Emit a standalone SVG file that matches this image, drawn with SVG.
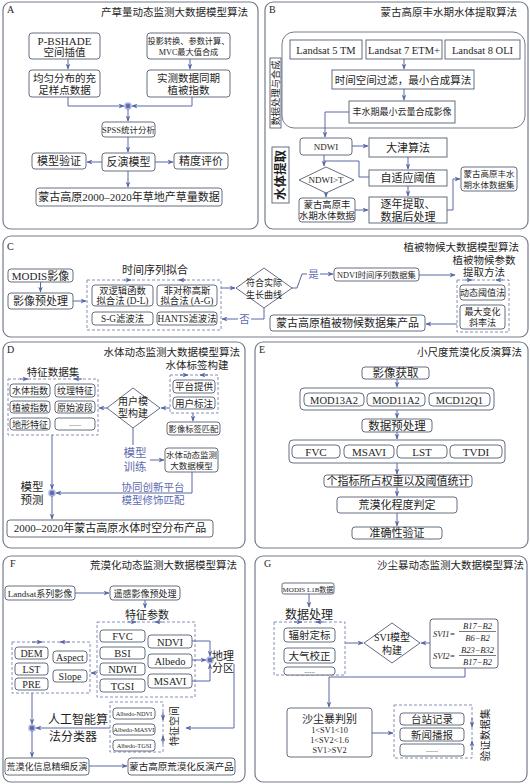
<svg xmlns="http://www.w3.org/2000/svg" width="530" height="784" viewBox="0 0 530 784">
<style>
.p{fill:#fff;stroke:#767c8c;stroke-width:1.2}
.b{fill:#fff;stroke:#555d72;stroke-width:0.9}
.g{fill:none;stroke:#7a85b0;stroke-width:0.9;stroke-dasharray:3 2}
.c{fill:none;stroke:#5866a8;stroke-width:1}
.a{marker-end:url(#ah)}
.t{font-family:"Liberation Serif","Noto Sans CJK SC",serif;fill:#1e1e1e;text-anchor:middle}
.s{text-anchor:start}
.e{text-anchor:end}
.bl{fill:#5d6bb0}
.i{font-style:italic}
.dot{fill:#5d6bb0;stroke:#aab2dc;stroke-width:1.5}
</style>
<defs>
<marker id="ah" viewBox="0 0 10 10" refX="9" refY="5" markerWidth="6" markerHeight="6" markerUnits="userSpaceOnUse" orient="auto"><path d="M0,1 L10,5 L0,9 L3,5 z" fill="#5866a8"/></marker>
</defs>
<rect width="530" height="784" fill="#fff"/>

<!-- Panels -->
<g id="panels">
<rect class="p" x="3" y="2" width="255" height="227" rx="8"/>
<rect class="p" x="265" y="2" width="263" height="227" rx="8"/>
<rect class="p" x="3" y="236" width="525" height="101" rx="8"/>
<rect class="p" x="3" y="342" width="242" height="206" rx="8"/>
<rect class="p" x="255" y="342" width="273" height="206" rx="8"/>
<rect class="p" x="3" y="556" width="242" height="226" rx="8"/>
<rect class="p" x="255" y="556" width="272" height="226" rx="8"/>
<text class="t s" x="7" y="13" font-size="10">A</text>
<text class="t e" x="248" y="16" font-size="10.5">产草量动态监测大数据模型算法</text>
<text class="t s" x="269" y="13" font-size="10">B</text>
<text class="t e" x="517" y="16" font-size="10.5">蒙古高原丰水期水体提取算法</text>
<text class="t s" x="7" y="250" font-size="10">C</text>
<text class="t e" x="519" y="251" font-size="10.5">植被物候大数据模型算法</text>
<text class="t s" x="7" y="353" font-size="10">D</text>
<text class="t e" x="240" y="356" font-size="10.5">水体动态监测大数据模型算法</text>
<text class="t s" x="259" y="353" font-size="10">E</text>
<text class="t e" x="522" y="356" font-size="10.5">小尺度荒漠化反演算法</text>
<text class="t s" x="10" y="567" font-size="10">F</text>
<text class="t e" x="237" y="569" font-size="10.5">荒漠化动态监测大数据模型算法</text>
<text class="t s" x="264" y="567" font-size="10">G</text>
<text class="t e" x="524" y="569" font-size="10.5">沙尘暴动态监测大数据模型算法</text>
</g>

<!-- Panel A nodes -->
<g id="a1"><rect class="b" x="29" y="33" width="71" height="26" rx="3"/><text class="t" x="64.5" y="44.5" font-size="11">P-BSHADE</text><text class="t" x="64.5" y="56" font-size="10.5">空间插值</text></g>
<g id="a2"><rect class="b" x="147" y="33" width="83" height="26" rx="3"/><text class="t" x="188.5" y="43.5" font-size="8.2">投影转换、参数计算、</text><text class="t" x="188.5" y="54.5" font-size="8.2">MVC最大值合成</text></g>
<g id="a3"><rect class="b" x="29" y="70" width="71" height="27" rx="3"/><text class="t" x="64.5" y="81.5" font-size="10.5">均匀分布的充</text><text class="t" x="64.5" y="93.5" font-size="10.5">足样点数据</text></g>
<g id="a4"><rect class="b" x="147" y="70" width="83" height="27" rx="3"/><text class="t" x="188.5" y="81.5" font-size="10.5">实测数据同期</text><text class="t" x="188.5" y="93.5" font-size="10.5">植被指数</text></g>
<g id="a5"><rect class="b" x="102" y="122" width="53" height="15" rx="3"/><text class="t" x="128.5" y="132.8" font-size="8.5">SPSS统计分析</text></g>
<g id="a6"><rect class="b" x="102" y="153" width="53" height="18" rx="3"/><text class="t" x="128.5" y="166" font-size="11">反演模型</text></g>
<g id="a7"><rect class="b" x="32" y="153" width="54" height="16" rx="3"/><text class="t" x="59" y="165" font-size="11">模型验证</text></g>
<g id="a8"><rect class="b" x="174" y="153" width="54" height="16" rx="3"/><text class="t" x="201" y="165" font-size="11">精度评价</text></g>
<g id="a9"><rect class="b" x="36" y="188" width="186" height="18" rx="3"/><text class="t" x="129" y="201" font-size="11">蒙古高原2000–2020年草地产草量数据</text></g>
<g id="a-dot"><circle class="dot" cx="128" cy="106" r="3"/></g>

<!-- Panel B nodes -->
<g id="b0"><rect fill="none" stroke="#767c8c" stroke-width="1" x="282" y="32" width="243" height="96" rx="12"/></g>
<g id="b-lab1"><rect class="b" x="270" y="58" width="11" height="70"/><text class="t" transform="translate(275.5,93) rotate(-90)" y="3.3" font-size="9.3">数据处理与合成</text></g>
<g id="b1"><rect class="b" x="290" y="40" width="72" height="19"/><text class="t" x="326" y="53.5" font-size="10.5">Landsat 5 TM</text></g>
<g id="b2"><rect class="b" x="366" y="40" width="76" height="19"/><text class="t" x="404" y="53.5" font-size="10.5">Landsat 7 ETM+</text></g>
<g id="b3"><rect class="b" x="445" y="40" width="75" height="19"/><text class="t" x="482.5" y="53.5" font-size="10.5">Landsat 8 OLI</text></g>
<g id="b4"><rect class="b" x="332" y="70" width="142" height="19"/><text class="t" x="403" y="83.5" font-size="10.5">时间空间过滤，最小合成算法</text></g>
<g id="b5"><rect class="b" x="349" y="101" width="106" height="22"/><text class="t" x="402" y="115.3" font-size="9">丰水期最小云量合成影像</text></g>
<g id="b6"><rect class="b" x="300" y="138" width="52" height="17" rx="3"/><text class="t" x="326" y="149.8" font-size="9">NDWI</text></g>
<g id="b7"><rect class="b" x="369" y="138" width="78" height="19"/><text class="t" x="408" y="151.5" font-size="11">大津算法</text></g>
<g id="b8"><rect class="b" x="369" y="170" width="78" height="16"/><text class="t" x="408" y="182" font-size="11">自适应阈值</text></g>
<g id="b9"><polygon class="b" points="299,180 326,167 354,180 326,193"/><text class="t" x="326" y="183.3" font-size="9">NDWI&gt;T</text></g>
<g id="b10"><rect class="b" x="299" y="198" width="56" height="24" rx="3"/><text class="t" x="327" y="208" font-size="9.3">蒙古高原丰</text><text class="t" x="327" y="219" font-size="9.3">水期水体数据</text></g>
<g id="b11"><rect class="b" x="369" y="197" width="78" height="26"/><text class="t" x="408" y="208" font-size="11">逐年提取、</text><text class="t" x="408" y="220.5" font-size="11">数据后处理</text></g>
<g id="b12"><rect class="b" x="461" y="167" width="56" height="24" rx="3"/><text class="t" x="489" y="177" font-size="8.5">蒙古高原丰水</text><text class="t" x="489" y="187.5" font-size="8.5">期水体数据集</text></g>
<g id="b-lab2"><rect class="b" x="272" y="147" width="17" height="56"/><text class="t" transform="translate(280.5,175) rotate(-90)" y="4.4" font-size="12.5" font-weight="bold">水体提取</text></g>

<!-- Panel C nodes -->
<g id="c1"><rect class="b" x="8" y="269" width="65" height="13" rx="3"/><text class="t" x="40.5" y="279.5" font-size="11">MODIS影像</text></g>
<g id="c2"><rect class="b" x="8" y="293" width="65" height="16" rx="3"/><text class="t" x="40.5" y="305" font-size="11">影像预处理</text></g>
<g id="c3"><rect class="g" x="87" y="280" width="134" height="50"/><text class="t" x="155" y="274" font-size="11">时间序列拟合</text></g>
<g id="c4"><rect class="b" x="92" y="285" width="61" height="21" rx="3"/><text class="t" x="122.5" y="294" font-size="9.3">双逻辑函数</text><text class="t" x="122.5" y="304" font-size="9.3">拟合法 (D-L)</text></g>
<g id="c5"><rect class="b" x="157" y="285" width="60" height="21" rx="3"/><text class="t" x="187" y="294" font-size="9.3">非对称高斯</text><text class="t" x="187" y="304" font-size="9.3">拟合法 (A-G)</text></g>
<g id="c6"><rect class="b" x="92" y="312" width="61" height="13" rx="3"/><text class="t" x="122.5" y="321.8" font-size="9.3">S-G滤波法</text></g>
<g id="c7"><rect class="b" x="157" y="312" width="60" height="13" rx="3"/><text class="t" x="187" y="321.8" font-size="9.3">HANTS滤波法</text></g>
<g id="c8"><polygon class="b" points="236,288 264,268 292,288 264,308"/><text class="t" x="264" y="286" font-size="9">符合实际</text><text class="t" x="264" y="297.5" font-size="9">生长曲线</text></g>
<g id="c9"><rect class="b" x="334" y="268" width="85" height="13" rx="3"/><text class="t" x="376.5" y="277.8" font-size="8.3">NDVI时间序列数据集</text></g>
<g id="c10"><rect class="g" x="457" y="280" width="52" height="52"/><text class="t" x="484" y="264" font-size="10.5">植被物候参数</text><text class="t" x="484" y="276" font-size="10.5">提取方法</text></g>
<g id="c11"><rect class="b" x="460" y="285" width="45" height="15" rx="3"/><text class="t" x="482.5" y="295.8" font-size="9">动态阈值法</text></g>
<g id="c12"><rect class="b" x="460" y="305" width="45" height="24" rx="3"/><text class="t" x="482.5" y="315" font-size="9">最大变化</text><text class="t" x="482.5" y="326" font-size="9">斜率法</text></g>
<g id="c13"><rect class="b" x="270" y="315" width="155" height="16" rx="3"/><text class="t" x="347.5" y="327" font-size="11">蒙古高原植被物候数据集产品</text></g>

<!-- Panel D nodes -->
<g id="d0"><rect class="g" x="8" y="379" width="90" height="56"/><text class="t" x="53" y="376" font-size="10.5">特征数据集</text></g>
<g id="d1"><rect class="b" x="10" y="384" width="40" height="13" rx="3"/><text class="t" x="30" y="394" font-size="9">水体指数</text></g>
<g id="d2"><rect class="b" x="55" y="384" width="40" height="13" rx="3"/><text class="t" x="75" y="394" font-size="9">纹理特征</text></g>
<g id="d3"><rect class="b" x="10" y="401" width="40" height="12" rx="3"/><text class="t" x="30" y="410.5" font-size="9">植被指数</text></g>
<g id="d4"><rect class="b" x="55" y="401" width="40" height="12" rx="3"/><text class="t" x="75" y="410.5" font-size="9">原始波段</text></g>
<g id="d5"><rect class="b" x="10" y="418" width="40" height="12" rx="3"/><text class="t" x="30" y="427.5" font-size="9">地形特征</text></g>
<g id="d6"><rect class="b" x="55" y="418" width="40" height="12" rx="3"/><text class="t" x="75" y="426" font-size="8">......</text></g>
<g id="d7"><polygon class="b" points="107,408 133,388 160,408 133,428"/><text class="t" x="133" y="405" font-size="10">用户模</text><text class="t" x="133" y="417" font-size="10">型构建</text></g>
<g id="d-grp2"><rect class="g" x="170" y="375" width="48" height="38"/><text class="t" x="197" y="369" font-size="10.5">水体标签构建</text></g>
<g id="d8"><rect class="b" x="173" y="380" width="42" height="13" rx="3"/><text class="t" x="194" y="390" font-size="9.5">平台提供</text></g>
<g id="d9"><rect class="b" x="173" y="397" width="42" height="12" rx="3"/><text class="t" x="194" y="406.5" font-size="9.5">用户标注</text></g>
<g id="d10"><rect class="b" x="167" y="422" width="53" height="13" rx="3"/><text class="t" x="193.5" y="431.8" font-size="8.3">影像标签匹配</text></g>
<g id="d11"><rect class="b" x="165" y="448" width="53" height="24" rx="3"/><text class="t" x="191.5" y="458" font-size="8.5">水体动态监测</text><text class="t" x="191.5" y="469" font-size="8.5">大数据模型</text></g>
<g id="d12"><rect class="b" x="7" y="520" width="206" height="17" rx="3"/><text class="t" x="110" y="532.3" font-size="11">2000–2020年蒙古高原水体时空分布产品</text></g>
<g id="d-dot"><circle class="dot" cx="52" cy="493" r="3"/></g>
<g id="d-labels">
<text class="t bl" x="135" y="457" font-size="11.5">模型</text><text class="t bl" x="135" y="471" font-size="11.5">训练</text>
<text class="t bl" x="153" y="490.5" font-size="10.5">协同创新平台</text><text class="t bl" x="153" y="503.5" font-size="10.5">模型修饰匹配</text>
<text class="t" x="32" y="491" font-size="11.5">模型</text><text class="t" x="32" y="504" font-size="11.5">预测</text>
</g>

<!-- Panel E nodes -->
<g id="e1"><rect class="b" x="362" y="367" width="67" height="12" rx="3"/><text class="t" x="395.5" y="377.2" font-size="11.5">影像获取</text></g>
<g id="e2"><rect class="b" x="300" y="388" width="194" height="22" rx="4"/></g>
<g id="e2a"><rect class="b" x="304" y="393" width="60" height="13" rx="4"/><text class="t" x="334" y="403.5" font-size="10.5">MOD13A2</text></g>
<g id="e2b"><rect class="b" x="367" y="393" width="58" height="13" rx="4"/><text class="t" x="396" y="403.5" font-size="10.5">MOD11A2</text></g>
<g id="e2c"><rect class="b" x="429" y="393" width="61" height="13" rx="4"/><text class="t" x="459.5" y="403.5" font-size="10.5">MCD12Q1</text></g>
<g id="e3"><rect class="b" x="362" y="419" width="70" height="13" rx="3"/><text class="t" x="397" y="429.5" font-size="11.5">数据预处理</text></g>
<g id="e4"><rect class="b" x="289" y="440" width="216" height="23" rx="4"/></g>
<g id="e4a"><rect class="b" x="292" y="445" width="48" height="13" rx="4"/><text class="t" x="316" y="455.5" font-size="11">FVC</text></g>
<g id="e4b"><rect class="b" x="344" y="445" width="50" height="13" rx="4"/><text class="t" x="369" y="455.5" font-size="11">MSAVI</text></g>
<g id="e4c"><rect class="b" x="397" y="445" width="50" height="13" rx="4"/><text class="t" x="422" y="455.5" font-size="11">LST</text></g>
<g id="e4d"><rect class="b" x="450" y="445" width="52" height="13" rx="4"/><text class="t" x="476" y="455.5" font-size="11">TVDI</text></g>
<g id="e5"><rect class="b" x="324" y="475" width="148" height="12" rx="3"/><text class="t" x="398" y="485" font-size="11">个指标所占权重以及阈值统计</text></g>
<g id="e6"><rect class="b" x="337" y="497" width="120" height="16" rx="3"/><text class="t" x="397" y="509" font-size="11">荒漠化程度判定</text></g>
<g id="e7"><rect class="b" x="352" y="527" width="90" height="12" rx="3"/><text class="t" x="397" y="537" font-size="11">准确性验证</text></g>

<!-- Panel F nodes -->
<g id="f1"><rect class="b" x="5" y="586" width="70" height="14" rx="3"/><text class="t" x="40" y="596.5" font-size="9">Landsat系列影像</text></g>
<g id="f2"><rect class="b" x="110" y="586" width="70" height="14" rx="3"/><text class="t" x="145" y="596.5" font-size="9">遥感影像预处理</text></g>
<g id="f-grpR"><rect class="g" x="97" y="622" width="98" height="75"/><text class="t" x="147" y="619" font-size="11">特征参数</text></g>
<g id="f3"><rect class="b" x="100" y="630" width="45" height="12" rx="3"/><text class="t" x="122.5" y="640" font-size="10.5">FVC</text></g>
<g id="f4"><rect class="b" x="100" y="647" width="45" height="12" rx="3"/><text class="t" x="122.5" y="657" font-size="10.5">BSI</text></g>
<g id="f5"><rect class="b" x="100" y="663" width="45" height="12" rx="3"/><text class="t" x="122.5" y="673" font-size="10.5">NDWI</text></g>
<g id="f6"><rect class="b" x="100" y="679" width="45" height="13" rx="3"/><text class="t" x="122.5" y="689.5" font-size="10.5">TGSI</text></g>
<g id="f7"><rect class="b" x="148" y="635" width="44" height="13" rx="3"/><text class="t" x="170" y="645.5" font-size="10.5">NDVI</text></g>
<g id="f8"><rect class="b" x="148" y="654" width="44" height="14" rx="3"/><text class="t" x="170" y="665" font-size="10.5">Albedo</text></g>
<g id="f9"><rect class="b" x="148" y="674" width="44" height="14" rx="3"/><text class="t" x="170" y="685" font-size="10.5">MSAVI</text></g>
<g id="f-grpL"><rect class="g" x="12" y="642" width="78" height="51"/></g>
<g id="f10"><rect class="b" x="15" y="647" width="33" height="12" rx="3"/><text class="t" x="31.5" y="657" font-size="10">DEM</text></g>
<g id="f11"><rect class="b" x="15" y="663" width="33" height="12" rx="3"/><text class="t" x="31.5" y="673" font-size="10">LST</text></g>
<g id="f12"><rect class="b" x="15" y="678" width="33" height="12" rx="3"/><text class="t" x="31.5" y="688" font-size="10">PRE</text></g>
<g id="f13"><rect class="b" x="53" y="651" width="34" height="12" rx="3"/><text class="t" x="70" y="661" font-size="10">Aspect</text></g>
<g id="f14"><rect class="b" x="53" y="670" width="34" height="12" rx="3"/><text class="t" x="70" y="680" font-size="10">Slope</text></g>
<g id="f-dot1"><circle class="dot" cx="210" cy="660" r="3"/><text class="t" x="223" y="660" font-size="11">地理</text><text class="t" x="223" y="671.5" font-size="11">分区</text></g>
<g id="f-grpS"><rect class="g" x="110" y="702" width="53" height="50"/><text class="t" transform="translate(174,726) rotate(-90)" y="3.5" font-size="10">特征空间</text></g>
<g id="f15"><rect class="b" x="113" y="708" width="42" height="11" rx="3"/><text class="t" x="134" y="716" font-size="6.3">Albedo-NDVI</text></g>
<g id="f16"><rect class="b" x="113" y="724" width="42" height="11" rx="3"/><text class="t" x="134" y="732" font-size="6.3">Albedo-MASVI</text></g>
<g id="f17"><rect class="b" x="113" y="740" width="42" height="11" rx="3"/><text class="t" x="134" y="748" font-size="6.3">Albedo-TGSI</text></g>
<g id="f-dot2"><circle class="dot" cx="32" cy="728" r="3"/><text class="t" x="78" y="724" font-size="12">人工智能算</text><text class="t" x="73" y="741" font-size="12">法分类器</text></g>
<g id="f18"><rect class="b" x="5" y="758" width="84" height="17" rx="3"/><text class="t" x="47" y="769.5" font-size="9">荒漠化信息精细反演</text></g>
<g id="f19"><rect class="b" x="128" y="758" width="107" height="17" rx="3"/><text class="t" x="181.5" y="769.5" font-size="9.5">蒙古高原荒漠化反演产品</text></g>

<!-- Panel G nodes -->
<g id="g1"><rect class="b" x="282" y="583" width="52" height="11" rx="2"/><text class="t" x="308" y="591.5" font-size="7">MODIS L1B数据</text></g>
<g id="g-grp"><rect class="g" x="274" y="622" width="71" height="53"/><text class="t" x="309" y="619" font-size="12">数据处理</text></g>
<g id="g2"><rect class="b" x="284" y="628" width="51" height="14" rx="3"/><text class="t" x="309.5" y="639" font-size="10.5">辐射定标</text></g>
<g id="g3"><rect class="b" x="284" y="648" width="51" height="15" rx="3"/><text class="t" x="309.5" y="659.5" font-size="10.5">大气校正</text></g>
<g id="g4"><rect class="b" x="284" y="667" width="51" height="8" rx="3"/><text class="t" x="309.5" y="673" font-size="7">......</text></g>
<g id="g5"><polygon class="b" points="364,643 392,623 420,643 392,663"/><text class="t" x="392" y="641" font-size="10">SVI模型</text><text class="t" x="392" y="654" font-size="10">构建</text></g>
<g id="g6"><rect class="b" x="430" y="619" width="68" height="49" rx="3"/>
<text class="t i s" x="433" y="637" font-size="8.5">SVI1=</text>
<text class="t i" x="477.5" y="629" font-size="8.5">B17−B2</text>
<line x1="459" y1="631.5" x2="496" y2="631.5" stroke="#1e1e1e" stroke-width="0.6"/>
<text class="t i" x="477.5" y="641" font-size="8.5">B6−B2</text>
<text class="t i s" x="433" y="659" font-size="8.5">SVI2=</text>
<text class="t i" x="477.5" y="653" font-size="8.5">B23−B32</text>
<line x1="459" y1="655.5" x2="496" y2="655.5" stroke="#1e1e1e" stroke-width="0.6"/>
<text class="t i" x="477.5" y="665" font-size="8.5">B17−B2</text>
</g>
<g id="g7"><rect class="b" x="287" y="708" width="85" height="49" rx="3"/><text class="t" x="329.5" y="723" font-size="11">沙尘暴判别</text><text class="t" x="329.5" y="733" font-size="8.3">1&lt;SV1&lt;10</text><text class="t" x="329.5" y="743" font-size="8.3">1&lt;SV2&lt;1.6</text><text class="t" x="329.5" y="753" font-size="8.3">SV1&gt;SV2</text></g>
<g id="g-grp2"><rect class="g" x="394" y="705" width="78" height="53"/><text class="t" transform="translate(485,735) rotate(-90)" y="3.7" font-size="10.5">验证数据集</text></g>
<g id="g8"><rect class="b" x="400" y="713" width="64" height="12" rx="3"/><text class="t" x="432" y="723" font-size="10.5">台站记录</text></g>
<g id="g9"><rect class="b" x="400" y="728" width="64" height="13" rx="3"/><text class="t" x="432" y="738.5" font-size="10.5">新闻播报</text></g>
<g id="g10"><rect class="b" x="400" y="744" width="64" height="12" rx="3"/><text class="t" x="432" y="752" font-size="8">......</text></g>

<!-- Connectors -->
<g id="connectors">
<!-- A -->
<path class="c a" d="M68,59 V69"/>
<path class="c a" d="M190,59 V69"/>
<path class="c a" d="M68,97 V106 H124"/>
<path class="c a" d="M192,97 V106 H132"/>
<path class="c a" d="M128,109 V121"/>
<path class="c a" d="M128,137 V152"/>
<path class="c a" d="M102,162 H87"/>
<path class="c a" d="M155,162 H173"/>
<path class="c a" d="M128,171 V187"/>
<!-- B -->
<path class="c a" d="M404,59 V69"/>
<path class="c a" d="M404,89 V100"/>
<path class="c a" d="M349,112 H325 V137"/>
<path class="c a" d="M352,146 H368"/>
<path class="c a" d="M408,157 V169"/>
<path class="c a" d="M324,155 V166"/>
<path class="c" d="M324,161 H359 V177 H369"/>
<path class="c a" d="M326,193 V197"/>
<path class="c a" d="M355,210 H368"/>
<path class="c a" d="M408,186 V196"/>
<path class="c a" d="M447,210 H453 V179 H460"/>
<!-- C -->
<path class="c a" d="M40.5,282 V292"/>
<path class="c a" d="M73,301 H86"/>
<path class="c a" d="M124,280 H131"/>
<path class="c a" d="M186,280 H179"/>
<path class="c a" d="M221,288 H235"/>
<path class="c a" d="M264,308 V319 H222"/>
<path class="c a" d="M292,288 H297 L302,274 H333"/>
<path class="c a" d="M419,275 H455"/>
<path class="c a" d="M465,280 H472"/>
<path class="c a" d="M503,280 H496"/>
<path class="c a" d="M457,324 H426"/>
<rect x="238" y="313" width="13" height="12" fill="#fff"/>
<text class="t bl" x="244.5" y="323" font-size="10.5">否</text>
<rect x="307" y="268" width="13" height="12" fill="#fff"/>
<text class="t bl" x="313.5" y="278" font-size="10.5">是</text>
<!-- D -->
<path class="c a" d="M20,379 H28"/>
<path class="c a" d="M82,379 H74"/>
<path class="c a" d="M180,375 H188"/>
<path class="c a" d="M208,375 H200"/>
<path class="c a" d="M107,408 H99"/>
<path class="c a" d="M170,408 H161"/>
<path class="c a" d="M193,413 V421"/>
<path class="c" d="M133,428 V445"/>
<path class="c a" d="M150,460 H164"/>
<path class="c a" d="M192,472 V493 H56"/>
<path class="c a" d="M52,435 V489"/>
<path class="c a" d="M52,496 V519"/>
<!-- E -->
<path class="c a" d="M397,379 V387"/>
<path class="c a" d="M397,410 V418"/>
<path class="c a" d="M397,432 V439"/>
<path class="c a" d="M397,463 V474"/>
<path class="c a" d="M397,487 V496"/>
<path class="c a" d="M397,513 V526"/>
<!-- F -->
<path class="c a" d="M75,593 H109"/>
<path class="c a" d="M145,600 V608"/>
<path class="c a" d="M128,622 H136"/>
<path class="c a" d="M162,622 H155"/>
<path class="c a" d="M32,642 H42"/>
<path class="c a" d="M70,642 H60"/>
<path class="c a" d="M97,673 H91"/>
<path class="c a" d="M192,641 H210 V656"/>
<path class="c a" d="M192,660 H206"/>
<path class="c a" d="M192,681 H210 V664"/>
<path class="c a" d="M234,664 V728 H186"/>
<path class="c a" d="M163,712 V720"/>
<path class="c a" d="M163,744 V736"/>
<path class="c a" d="M110,728 H36"/>
<path class="c a" d="M32,693 V724"/>
<path class="c a" d="M32,731 V757"/>
<path class="c a" d="M89,766 H127"/>
<!-- G -->
<path class="c a" d="M309,594 V607"/>
<path class="c a" d="M294,622 H302"/>
<path class="c a" d="M324,622 H316"/>
<path class="c a" d="M345,643 H363"/>
<path class="c a" d="M430,643 H421"/>
<path class="c a" d="M465,668 V677 H329 V707"/>
<path class="c a" d="M372,733 H393"/>
<path class="c a" d="M472,718 V727"/>
<path class="c a" d="M472,750 V741"/>
</g>
</svg>
